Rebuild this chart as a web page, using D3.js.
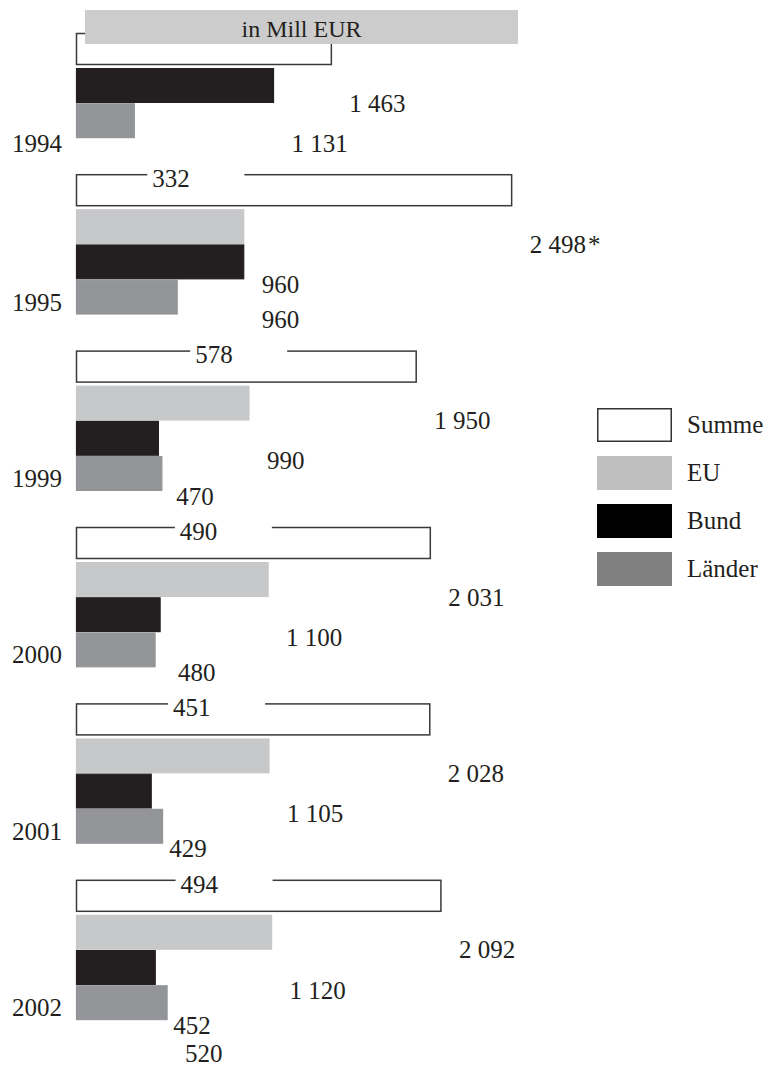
<!DOCTYPE html>
<html>
<head>
<meta charset="utf-8">
<script src="https://cdn.jsdelivr.net/npm/d3@7"></script>
<style>
  html, body { margin: 0; padding: 0; background: #fff; }
  svg { display: block; }
  text { font-family: "Liberation Serif", "Times New Roman", serif; fill: #231f20; }
</style>
</head>
<body>
<svg id="chart" width="767" height="1068"></svg>
<script>
// ---- data ----
const years = ["1994", "1995", "1999", "2000", "2001", "2002"];
const seriesNames = ["Summe", "EU", "Bund", "Länder"];
const summe   = [1463, 2498, 1950, 2031, 2028, 2092];
const eu      = [null,  960,  990, 1100, 1105, 1120];
const bund    = [1131,  960,  470,  480,  429,  452];
const laender = [ 332,  578,  490,  451,  494,  520];
const summeNotes = ["", "*", "", "", "", ""];
const unitLabel = "in Mill EUR";

// ---- styles ----
const barFill   = { "Summe": "#ffffff", "EU": "#c7c8ca", "Bund": "#231f20", "Länder": "#939598" };
const legendFill = { "Summe": "#ffffff", "EU": "#bfbfbf", "Bund": "#000000", "Länder": "#808080" };
const fontSize = 25;
const W = 767, H = 1068;

const svg = d3.select("#chart");
const seriesValues = [summe, eu, bund, laender];

// x scale
const x = d3.scaleLinear().domain([0, 2500]).range([76.5, 512]);

// slot layout (y)
const slotH = 35.2, groupGap = 35.6, top0 = 33;
const slots = [];
const groups = [];
let slotIdx = 0;
years.forEach((yr, gi) => {
  const first = slotIdx;
  seriesNames.forEach((s, si) => {
    const v = seriesValues[si][gi];
    if (v == null) return;
    slots.push({ year: yr, gi, series: s, value: v, note: s === "Summe" ? summeNotes[gi] : "", idx: slotIdx });
    slotIdx++;
  });
  groups.push({ year: yr, gi, first, last: slotIdx - 1 });
});
const slotTop = d => top0 + d.idx * slotH + d.gi * groupGap;
const slotTopIdx = (idx, gi) => top0 + idx * slotH + gi * groupGap;

const fmt = d3.formatLocale({ decimal: ",", thousands: " ", grouping: [3], currency: ["", " €"] }).format(",d");

// bars
const bars = svg.append("g");
bars.selectAll("rect.filled")
  .data(slots.filter(d => d.series !== "Summe"))
  .join("rect")
  .attr("x", x(0))
  .attr("y", d => slotTop(d) + 0.4)
  .attr("width", d => x(d.value) - x(0))
  .attr("height", slotH - 1.4)
  .attr("fill", d => barFill[d.series])
  .attr("stroke", d => barFill[d.series])
  .attr("stroke-width", 1.2);

bars.selectAll("rect.summe")
  .data(slots.filter(d => d.series === "Summe"))
  .join("rect")
  .attr("x", x(0))
  .attr("y", d => slotTop(d) + 0.5)
  .attr("width", d => x(d.value) - x(0))
  .attr("height", slotH - 4.2)
  .attr("fill", "#ffffff")
  .attr("stroke", "#3a3a3a")
  .attr("stroke-width", 1.5);

// title box (drawn over first group)
svg.append("rect")
  .attr("x", 85).attr("y", 10).attr("width", 433).attr("height", 34)
  .attr("fill", "#cccccc");
svg.append("text")
  .attr("x", 301.5).attr("y", 37)
  .attr("text-anchor", "middle")
  .attr("font-size", 24)
  .text(unitLabel);

// value labels (with white knockout boxes)
const labels = svg.append("g");
const lab = labels.selectAll("g.lab")
  .data(slots)
  .join("g")
  .attr("transform", d => {
    const cy = slotTop(d) + slotH / 2;
    const by = Math.min(cy + (d.series === "Summe" ? 61 : 66), H - 6);
    return `translate(${x(d.value) + 18},${by})`;
  });
lab.append("rect")
  .attr("x", -5).attr("y", -21)
  .attr("width", 97).attr("height", 26)
  .attr("fill", "#ffffff");
lab.append("text")
  .attr("font-size", fontSize)
  .text(d => fmt(d.value) + (d.note ? "\u200A" + d.note : ""));

// year labels
svg.append("g").selectAll("text")
  .data(groups)
  .join("text")
  .attr("x", 62)
  .attr("y", g => (slotTopIdx(g.first, g.gi) + slotTopIdx(g.last, g.gi) + slotH) / 2 + 66)
  .attr("text-anchor", "end")
  .attr("font-size", fontSize)
  .text(g => g.year);

// legend
const legend = svg.append("g").attr("transform", "translate(597,408)");
const li = legend.selectAll("g")
  .data(seriesNames)
  .join("g")
  .attr("transform", (d, i) => `translate(0,${i * 48})`);
li.append("rect")
  .attr("x", d => d === "Summe" ? 0.75 : 0)
  .attr("y", d => d === "Summe" ? 0.75 : 0)
  .attr("width", d => d === "Summe" ? 73.5 : 75)
  .attr("height", d => d === "Summe" ? 32.5 : 34)
  .attr("fill", d => legendFill[d])
  .attr("stroke", d => d === "Summe" ? "#333333" : "none")
  .attr("stroke-width", 1.5);
li.append("text")
  .attr("x", 90)
  .attr("y", 25)
  .attr("font-size", fontSize)
  .text(d => d);
</script>
</body>
</html>
